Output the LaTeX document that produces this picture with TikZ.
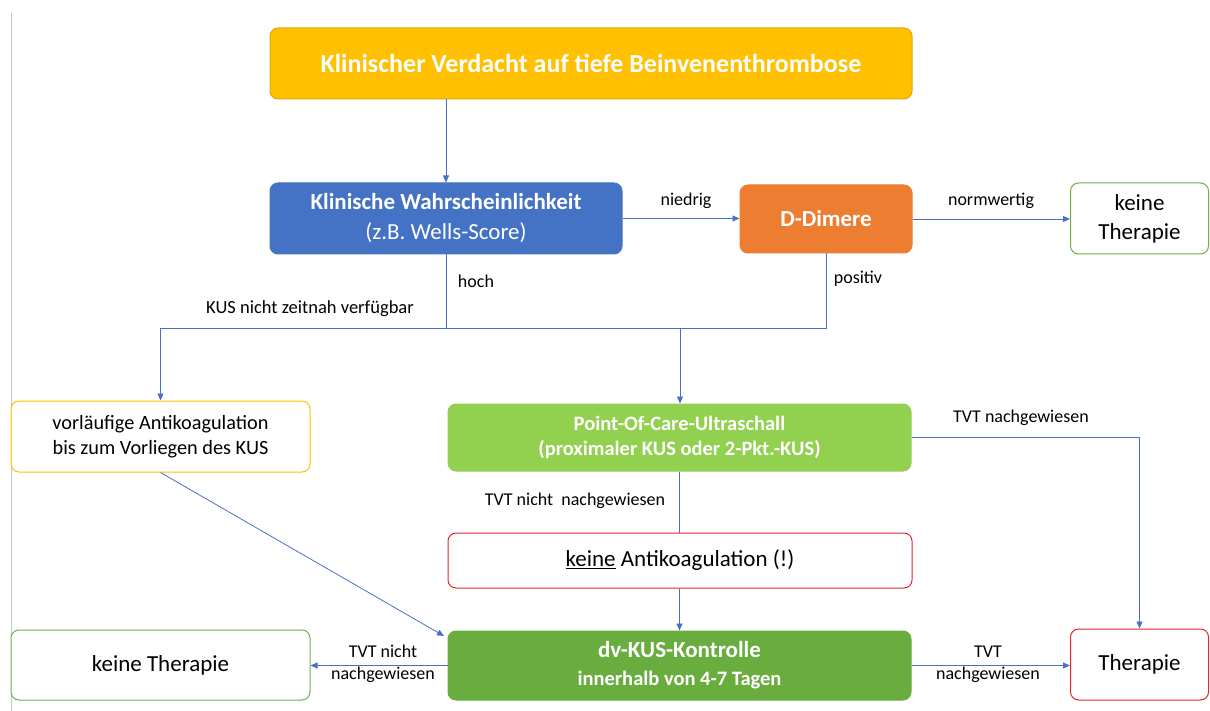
\documentclass[tikz,border=0pt]{standalone}
\usepackage{fontspec}
\setmainfont{Carlito}
\usetikzlibrary{arrows.meta}

\definecolor{cyellow}{HTML}{FFC000}
\definecolor{cyellowdk}{HTML}{E0AA00}
\definecolor{cblue}{HTML}{4472C4}
\definecolor{corange}{HTML}{ED7D31}
\definecolor{clgreen}{HTML}{92D050}
\definecolor{cdgreen}{HTML}{6AAD3F}
\definecolor{cgreenline}{HTML}{70AD47}
\definecolor{cred}{HTML}{E3262A}
\definecolor{clink}{HTML}{4A6FCB}
\definecolor{cframe}{HTML}{C8C8C8}

\tikzset{
  box/.style={rounded corners=8pt, line width=1pt, align=center, inner sep=0pt},
  solidbox/.style={box, text=white},
  lbl/.style={font=\fontsize{18}{22}\selectfont, align=center, inner sep=0pt, text=black},
  conn/.style={draw=clink, line width=0.8pt},
  arr/.style={conn, -{Triangle[length=7pt,width=6pt]}},
}

\begin{document}
\begin{tikzpicture}[x=1pt,y=-1pt]
\useasboundingbox (0,0) rectangle (1210,711);

% left frame rule
\draw[cframe, line width=1pt] (11.5,13) -- (11.5,711);

% boxes
\node[solidbox, fill=cyellow, draw=cyellowdk, minimum width=642pt, minimum height=71pt,
      font=\fontsize{26}{30}\selectfont\bfseries] (top) at (591,63.5)
      {Klinischer Verdacht auf tiefe Beinvenenthrombose};

\node[solidbox, fill=cblue, draw=cblue, minimum width=352pt, minimum height=71pt,
      font=\fontsize{23}{30}\selectfont] (wells) at (446,218.5)
      {\textbf{Klinische Wahrscheinlichkeit}\\(z.B. Wells-Score)};

\node[solidbox, fill=corange, draw=corange, minimum width=172pt, minimum height=68pt,
      font=\fontsize{23}{28}\selectfont\bfseries] (dd) at (826,219) {D-Dimere};

\node[box, fill=white, draw=cgreenline, minimum width=138pt, minimum height=71pt,
      font=\fontsize{23}{29}\selectfont] (kt1) at (1139.5,218.5) {keine\\Therapie};

\node[box, fill=white, draw=cyellow, minimum width=299pt, minimum height=71pt,
      font=\fontsize{20.3}{25}\selectfont] (vor) at (160.5,436.5)
      {vorläufige Antikoagulation\\bis zum Vorliegen des KUS};

\node[solidbox, fill=clgreen, draw=clgreen, minimum width=463pt, minimum height=67pt,
      font=\fontsize{20.5}{25}\selectfont\bfseries] (poc) at (679.5,437.5)
      {Point-Of-Care-Ultraschall\\(proximaler KUS oder 2-Pkt.-KUS)};

\node[box, fill=white, draw=cred, minimum width=464pt, minimum height=55pt,
      font=\fontsize{23}{28}\selectfont] (ka) at (680,560.5)
      {\underline{keine} Antikoagulation (!)};

\node[solidbox, fill=cdgreen, draw=cdgreen, minimum width=463pt, minimum height=69pt,
      font=\fontsize{23}{27}\selectfont\bfseries] (dv) at (679.5,665.5)
      {dv-KUS-Kontrolle\\[1pt]{\fontsize{20.5}{25}\selectfont innerhalb von 4-7 Tagen}};

\node[box, fill=white, draw=cgreenline, minimum width=299pt, minimum height=70pt,
      font=\fontsize{23}{28}\selectfont] (kt2) at (160.5,665) {keine Therapie};

\node[box, fill=white, draw=cred, minimum width=138pt, minimum height=71pt,
      font=\fontsize{23}{28}\selectfont] (th) at (1139.5,664.5) {Therapie};

% junction points of the branching line
\coordinate (jw) at (446,328);
\coordinate (jd) at (826,328);
\coordinate (jl) at (160.5,328);
\coordinate (jm) at (680,328);
\coordinate (dvin) at (444,636);

% connectors
\draw[arr] (wells.north |- top.south) -- (wells.north);
\draw[arr] (wells.east) -- (dd.west |- wells.east);
\draw[arr] (dd.east) -- (kt1.west |- dd.east);
\draw[conn] (wells.south) -- (jw);
\draw[conn] (dd.south) -- (jd) -- (jl);
\draw[arr] (jl) -- (vor.north);
\draw[arr] (jm) -- (poc.north -| jm);
\draw[arr] (poc.east) -| (th.north);
\draw[conn] (poc.south) -- (ka.north -| poc.south);
\draw[arr] (ka.south -| dv.north) -- (dv.north);
\draw[arr] (vor.south) -- (dvin);
\draw[arr] (dv.west) -- (kt2.east |- dv.west);
\draw[arr] (dv.east) -- (th.west |- dv.east);

% connector labels
\node[lbl] (lniedrig) at (686,201) {niedrig};
\node[lbl] (lnorm) at (991,201) {normwertig};
\node[lbl] (lhoch) at (476,281) {hoch};
\node[lbl] (lpos) at (858,279) {positiv};
\node[lbl, font=\fontsize{18.5}{22}\selectfont] (lkus) at (310,309) {KUS nicht zeitnah verfügbar};
\node[lbl] (ltvt1) at (1021,418) {TVT nachgewiesen};
\node[lbl] (ltvt2) at (575,501) {TVT nicht\ \ nachgewiesen};
\node[lbl] (ltvt3) at (383,664) {TVT nicht\\nachgewiesen};
\node[lbl] (ltvt4) at (988,664) {TVT\\nachgewiesen};
\end{tikzpicture}
\end{document}
